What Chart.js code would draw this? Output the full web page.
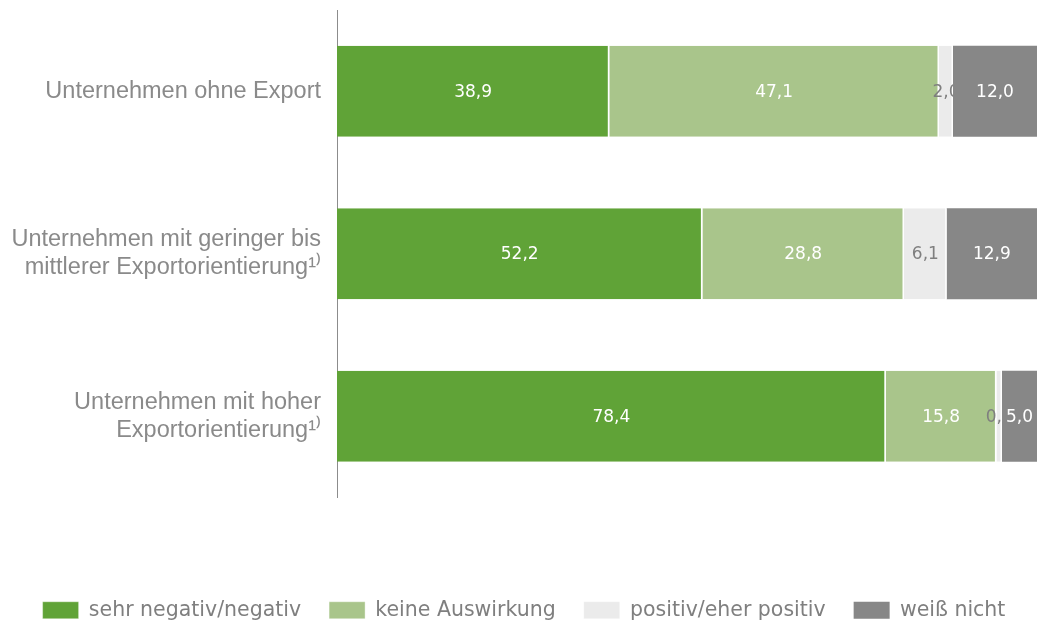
<!DOCTYPE html>
<html lang="de">
<head>
<meta charset="utf-8">
<title>Auswirkungen nach Exportorientierung</title>
<script src="https://cdn.jsdelivr.net/npm/chart.js@4/dist/chart.umd.min.js"></script>
<style>
  html, body { margin: 0; padding: 0; background: #fff; overflow: hidden; }
  #wrap { width: 1041px; height: 624px; position: relative; }
</style>
</head>
<body>
<div id="wrap"><canvas id="exportChart"></canvas></div>
<script>
// Kategorien (y-Achse)
const kategorien = [
    'Unternehmen ohne Export',
    ['Unternehmen mit geringer bis', 'mittlerer Exportorientierung¹⁾'],
    ['Unternehmen mit hoher', 'Exportorientierung¹⁾']
];

// Werte in Prozent
const sehrNegativ     = [38.9, 52.2, 78.4];
const keineAuswirkung = [47.1, 28.8, 15.8];
const positiv         = [2.0, 6.1, 0.8];
const weissNicht      = [12.0, 12.9, 5.0];

const serienNamen = ['sehr negativ/negativ', 'keine Auswirkung', 'positiv/eher positiv', 'weiß nicht'];
const farben      = ['#60a337', '#a9c58b', '#ebebeb', '#878787'];
const textFarben  = ['#ffffff', '#ffffff', '#7f7f7f', '#ffffff'];

// Werte mitten in die Balken schreiben, rechts an das nächste Segment abgeschnitten
const wertBeschriftung = {
    id: 'wertBeschriftung',
    afterDatasetsDraw(chart) {
        const ctx = chart.ctx;
        const n = chart.data.datasets.length;
        chart.data.datasets.forEach((ds, i) => {
            const meta = chart.getDatasetMeta(i);
            meta.data.forEach((bar, j) => {
                const wert = ds.data[j];
                const links = Math.min(bar.x, bar.base);
                const rechts = Math.max(bar.x, bar.base);
                ctx.save();
                if (i < n - 1) {
                    ctx.beginPath();
                    ctx.rect(0, bar.y - bar.height / 2, rechts, bar.height);
                    ctx.clip();
                }
                ctx.fillStyle = textFarben[i];
                ctx.font = '17px "DejaVu Sans"';
                ctx.textAlign = 'center';
                ctx.textBaseline = 'middle';
                ctx.fillText(wert.toFixed(1).replace('.', ','), (links + rechts) / 2, bar.y + 1);
                ctx.restore();
            });
        });
    }
};

const datensaetze = [sehrNegativ, keineAuswirkung, positiv, weissNicht].map((werte, i) => ({
    label: serienNamen[i],
    data: werte,
    backgroundColor: farben[i],
    borderColor: '#ffffff',
    borderWidth: { top: 0, bottom: 0, left: 0, right: i < 3 ? 1.5 : 0 },
    borderSkipped: false,
    categoryPercentage: 1,
    barPercentage: 0.56
}));

new Chart(document.getElementById('exportChart'), {
    type: 'bar',
    data: { labels: kategorien, datasets: datensaetze },
    options: {
        indexAxis: 'y',
        responsive: true,
        maintainAspectRatio: false,
        animation: false,
        layout: { padding: { top: 10, right: 4, bottom: -6.5, left: 11 } },
        plugins: {
            tooltip: { enabled: false },
            legend: {
                position: 'bottom',
                labels: {
                    color: '#7f7f7f',
                    font: { family: '"DejaVu Sans"', size: 20.5 },
                    boxWidth: 36,
                    boxHeight: 17,
                    padding: 28
                }
            }
        },
        scales: {
            x: {
                stacked: true,
                min: 0,
                max: 100,
                ticks: { display: false },
                grid: { display: false },
                border: { display: false },
                afterFit: (s) => { s.height = 74.5; }
            },
            y: {
                stacked: true,
                grid: { display: false, drawTicks: false },
                border: { display: true, color: '#8c8c8c', width: 1 },
                ticks: {
                    color: '#8a8a8a',
                    padding: 16,
                    font: { family: '"Liberation Sans", Arial, sans-serif', size: 23.5, lineHeight: 1.2 }
                },
                afterFit: (s) => {
                    s.width = 326;
                    s.paddingTop = 0;
                    s.paddingBottom = 0;
                }
            }
        }
    },
    plugins: [wertBeschriftung]
});
</script>
</body>
</html>
